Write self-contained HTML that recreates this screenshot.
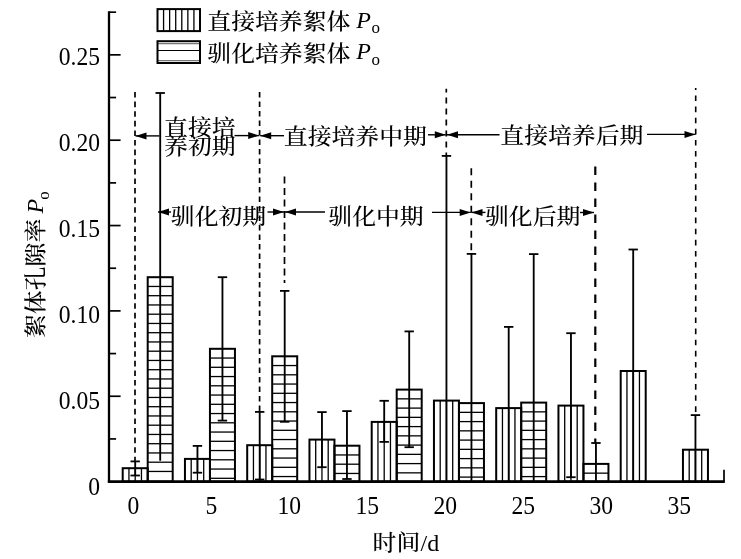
<!DOCTYPE html>
<html lang="zh"><head><meta charset="utf-8"><title>絮体孔隙率</title>
<style>
html,body{margin:0;padding:0;background:#fff;overflow:hidden;}
svg{display:block;}
.t{font-family:"Liberation Serif","Noto Serif CJK SC",serif;fill:#000;}
.c{font-family:"Liberation Serif","Noto Serif CJK SC",serif;fill:#000;font-weight:500;}
</style></head><body>
<svg width="741" height="559" viewBox="0 0 741 559">
<rect x="0" y="0" width="741" height="559" fill="#fff"/>
<line x1="128.95" y1="468.20" x2="128.95" y2="481.60" stroke="#000" stroke-width="1.3"/>
<line x1="135.20" y1="468.20" x2="135.20" y2="481.60" stroke="#000" stroke-width="1.3"/>
<line x1="141.45" y1="468.20" x2="141.45" y2="481.60" stroke="#000" stroke-width="1.3"/>
<rect x="122.70" y="468.20" width="25.00" height="13.40" fill="none" stroke="#000" stroke-width="2"/>
<line x1="191.20" y1="458.90" x2="191.20" y2="481.60" stroke="#000" stroke-width="1.3"/>
<line x1="197.45" y1="458.90" x2="197.45" y2="481.60" stroke="#000" stroke-width="1.3"/>
<line x1="203.70" y1="458.90" x2="203.70" y2="481.60" stroke="#000" stroke-width="1.3"/>
<rect x="184.95" y="458.90" width="25.00" height="22.70" fill="none" stroke="#000" stroke-width="2"/>
<line x1="253.45" y1="445.20" x2="253.45" y2="481.60" stroke="#000" stroke-width="1.3"/>
<line x1="259.70" y1="445.20" x2="259.70" y2="481.60" stroke="#000" stroke-width="1.3"/>
<line x1="265.95" y1="445.20" x2="265.95" y2="481.60" stroke="#000" stroke-width="1.3"/>
<rect x="247.20" y="445.20" width="25.00" height="36.40" fill="none" stroke="#000" stroke-width="2"/>
<line x1="315.70" y1="439.60" x2="315.70" y2="481.60" stroke="#000" stroke-width="1.3"/>
<line x1="321.95" y1="439.60" x2="321.95" y2="481.60" stroke="#000" stroke-width="1.3"/>
<line x1="328.20" y1="439.60" x2="328.20" y2="481.60" stroke="#000" stroke-width="1.3"/>
<rect x="309.45" y="439.60" width="25.00" height="42.00" fill="none" stroke="#000" stroke-width="2"/>
<line x1="377.95" y1="421.90" x2="377.95" y2="481.60" stroke="#000" stroke-width="1.3"/>
<line x1="384.20" y1="421.90" x2="384.20" y2="481.60" stroke="#000" stroke-width="1.3"/>
<line x1="390.45" y1="421.90" x2="390.45" y2="481.60" stroke="#000" stroke-width="1.3"/>
<rect x="371.70" y="421.90" width="25.00" height="59.70" fill="none" stroke="#000" stroke-width="2"/>
<line x1="440.20" y1="400.60" x2="440.20" y2="481.60" stroke="#000" stroke-width="1.3"/>
<line x1="446.45" y1="400.60" x2="446.45" y2="481.60" stroke="#000" stroke-width="1.3"/>
<line x1="452.70" y1="400.60" x2="452.70" y2="481.60" stroke="#000" stroke-width="1.3"/>
<rect x="433.95" y="400.60" width="25.00" height="81.00" fill="none" stroke="#000" stroke-width="2"/>
<line x1="502.45" y1="408.10" x2="502.45" y2="481.60" stroke="#000" stroke-width="1.3"/>
<line x1="508.70" y1="408.10" x2="508.70" y2="481.60" stroke="#000" stroke-width="1.3"/>
<line x1="514.95" y1="408.10" x2="514.95" y2="481.60" stroke="#000" stroke-width="1.3"/>
<rect x="496.20" y="408.10" width="25.00" height="73.50" fill="none" stroke="#000" stroke-width="2"/>
<line x1="564.70" y1="405.60" x2="564.70" y2="481.60" stroke="#000" stroke-width="1.3"/>
<line x1="570.95" y1="405.60" x2="570.95" y2="481.60" stroke="#000" stroke-width="1.3"/>
<line x1="577.20" y1="405.60" x2="577.20" y2="481.60" stroke="#000" stroke-width="1.3"/>
<rect x="558.45" y="405.60" width="25.00" height="76.00" fill="none" stroke="#000" stroke-width="2"/>
<line x1="626.95" y1="371.00" x2="626.95" y2="481.60" stroke="#000" stroke-width="1.3"/>
<line x1="633.20" y1="371.00" x2="633.20" y2="481.60" stroke="#000" stroke-width="1.3"/>
<line x1="639.45" y1="371.00" x2="639.45" y2="481.60" stroke="#000" stroke-width="1.3"/>
<rect x="620.70" y="371.00" width="25.00" height="110.60" fill="none" stroke="#000" stroke-width="2"/>
<line x1="689.20" y1="449.70" x2="689.20" y2="481.60" stroke="#000" stroke-width="1.3"/>
<line x1="695.45" y1="449.70" x2="695.45" y2="481.60" stroke="#000" stroke-width="1.3"/>
<line x1="701.70" y1="449.70" x2="701.70" y2="481.60" stroke="#000" stroke-width="1.3"/>
<rect x="682.95" y="449.70" width="25.00" height="31.90" fill="none" stroke="#000" stroke-width="2"/>
<line x1="147.70" y1="286.45" x2="172.70" y2="286.45" stroke="#000" stroke-width="1.3"/>
<line x1="147.70" y1="295.70" x2="172.70" y2="295.70" stroke="#000" stroke-width="1.3"/>
<line x1="147.70" y1="304.95" x2="172.70" y2="304.95" stroke="#000" stroke-width="1.3"/>
<line x1="147.70" y1="314.20" x2="172.70" y2="314.20" stroke="#000" stroke-width="1.3"/>
<line x1="147.70" y1="323.45" x2="172.70" y2="323.45" stroke="#000" stroke-width="1.3"/>
<line x1="147.70" y1="332.70" x2="172.70" y2="332.70" stroke="#000" stroke-width="1.3"/>
<line x1="147.70" y1="341.95" x2="172.70" y2="341.95" stroke="#000" stroke-width="1.3"/>
<line x1="147.70" y1="351.20" x2="172.70" y2="351.20" stroke="#000" stroke-width="1.3"/>
<line x1="147.70" y1="360.45" x2="172.70" y2="360.45" stroke="#000" stroke-width="1.3"/>
<line x1="147.70" y1="369.70" x2="172.70" y2="369.70" stroke="#000" stroke-width="1.3"/>
<line x1="147.70" y1="378.95" x2="172.70" y2="378.95" stroke="#000" stroke-width="1.3"/>
<line x1="147.70" y1="388.20" x2="172.70" y2="388.20" stroke="#000" stroke-width="1.3"/>
<line x1="147.70" y1="397.45" x2="172.70" y2="397.45" stroke="#000" stroke-width="1.3"/>
<line x1="147.70" y1="406.70" x2="172.70" y2="406.70" stroke="#000" stroke-width="1.3"/>
<line x1="147.70" y1="415.95" x2="172.70" y2="415.95" stroke="#000" stroke-width="1.3"/>
<line x1="147.70" y1="425.20" x2="172.70" y2="425.20" stroke="#000" stroke-width="1.3"/>
<line x1="147.70" y1="434.45" x2="172.70" y2="434.45" stroke="#000" stroke-width="1.3"/>
<line x1="147.70" y1="443.70" x2="172.70" y2="443.70" stroke="#000" stroke-width="1.3"/>
<line x1="147.70" y1="452.95" x2="172.70" y2="452.95" stroke="#000" stroke-width="1.3"/>
<line x1="147.70" y1="462.20" x2="172.70" y2="462.20" stroke="#000" stroke-width="1.3"/>
<line x1="147.70" y1="471.45" x2="172.70" y2="471.45" stroke="#000" stroke-width="1.3"/>
<rect x="147.70" y="277.20" width="25.00" height="204.40" fill="none" stroke="#000" stroke-width="2"/>
<line x1="209.95" y1="358.05" x2="234.95" y2="358.05" stroke="#000" stroke-width="1.3"/>
<line x1="209.95" y1="367.30" x2="234.95" y2="367.30" stroke="#000" stroke-width="1.3"/>
<line x1="209.95" y1="376.55" x2="234.95" y2="376.55" stroke="#000" stroke-width="1.3"/>
<line x1="209.95" y1="385.80" x2="234.95" y2="385.80" stroke="#000" stroke-width="1.3"/>
<line x1="209.95" y1="395.05" x2="234.95" y2="395.05" stroke="#000" stroke-width="1.3"/>
<line x1="209.95" y1="404.30" x2="234.95" y2="404.30" stroke="#000" stroke-width="1.3"/>
<line x1="209.95" y1="413.55" x2="234.95" y2="413.55" stroke="#000" stroke-width="1.3"/>
<line x1="209.95" y1="422.80" x2="234.95" y2="422.80" stroke="#000" stroke-width="1.3"/>
<line x1="209.95" y1="432.05" x2="234.95" y2="432.05" stroke="#000" stroke-width="1.3"/>
<line x1="209.95" y1="441.30" x2="234.95" y2="441.30" stroke="#000" stroke-width="1.3"/>
<line x1="209.95" y1="450.55" x2="234.95" y2="450.55" stroke="#000" stroke-width="1.3"/>
<line x1="209.95" y1="459.80" x2="234.95" y2="459.80" stroke="#000" stroke-width="1.3"/>
<line x1="209.95" y1="469.05" x2="234.95" y2="469.05" stroke="#000" stroke-width="1.3"/>
<line x1="209.95" y1="478.30" x2="234.95" y2="478.30" stroke="#000" stroke-width="1.3"/>
<rect x="209.95" y="348.80" width="25.00" height="132.80" fill="none" stroke="#000" stroke-width="2"/>
<line x1="272.20" y1="365.55" x2="297.20" y2="365.55" stroke="#000" stroke-width="1.3"/>
<line x1="272.20" y1="374.80" x2="297.20" y2="374.80" stroke="#000" stroke-width="1.3"/>
<line x1="272.20" y1="384.05" x2="297.20" y2="384.05" stroke="#000" stroke-width="1.3"/>
<line x1="272.20" y1="393.30" x2="297.20" y2="393.30" stroke="#000" stroke-width="1.3"/>
<line x1="272.20" y1="402.55" x2="297.20" y2="402.55" stroke="#000" stroke-width="1.3"/>
<line x1="272.20" y1="411.80" x2="297.20" y2="411.80" stroke="#000" stroke-width="1.3"/>
<line x1="272.20" y1="421.05" x2="297.20" y2="421.05" stroke="#000" stroke-width="1.3"/>
<line x1="272.20" y1="430.30" x2="297.20" y2="430.30" stroke="#000" stroke-width="1.3"/>
<line x1="272.20" y1="439.55" x2="297.20" y2="439.55" stroke="#000" stroke-width="1.3"/>
<line x1="272.20" y1="448.80" x2="297.20" y2="448.80" stroke="#000" stroke-width="1.3"/>
<line x1="272.20" y1="458.05" x2="297.20" y2="458.05" stroke="#000" stroke-width="1.3"/>
<line x1="272.20" y1="467.30" x2="297.20" y2="467.30" stroke="#000" stroke-width="1.3"/>
<line x1="272.20" y1="476.55" x2="297.20" y2="476.55" stroke="#000" stroke-width="1.3"/>
<rect x="272.20" y="356.30" width="25.00" height="125.30" fill="none" stroke="#000" stroke-width="2"/>
<line x1="334.45" y1="454.95" x2="359.45" y2="454.95" stroke="#000" stroke-width="1.3"/>
<line x1="334.45" y1="464.20" x2="359.45" y2="464.20" stroke="#000" stroke-width="1.3"/>
<line x1="334.45" y1="473.45" x2="359.45" y2="473.45" stroke="#000" stroke-width="1.3"/>
<rect x="334.45" y="445.70" width="25.00" height="35.90" fill="none" stroke="#000" stroke-width="2"/>
<line x1="396.70" y1="398.85" x2="421.70" y2="398.85" stroke="#000" stroke-width="1.3"/>
<line x1="396.70" y1="408.10" x2="421.70" y2="408.10" stroke="#000" stroke-width="1.3"/>
<line x1="396.70" y1="417.35" x2="421.70" y2="417.35" stroke="#000" stroke-width="1.3"/>
<line x1="396.70" y1="426.60" x2="421.70" y2="426.60" stroke="#000" stroke-width="1.3"/>
<line x1="396.70" y1="435.85" x2="421.70" y2="435.85" stroke="#000" stroke-width="1.3"/>
<line x1="396.70" y1="445.10" x2="421.70" y2="445.10" stroke="#000" stroke-width="1.3"/>
<line x1="396.70" y1="454.35" x2="421.70" y2="454.35" stroke="#000" stroke-width="1.3"/>
<line x1="396.70" y1="463.60" x2="421.70" y2="463.60" stroke="#000" stroke-width="1.3"/>
<line x1="396.70" y1="472.85" x2="421.70" y2="472.85" stroke="#000" stroke-width="1.3"/>
<rect x="396.70" y="389.60" width="25.00" height="92.00" fill="none" stroke="#000" stroke-width="2"/>
<line x1="458.95" y1="412.35" x2="483.95" y2="412.35" stroke="#000" stroke-width="1.3"/>
<line x1="458.95" y1="421.60" x2="483.95" y2="421.60" stroke="#000" stroke-width="1.3"/>
<line x1="458.95" y1="430.85" x2="483.95" y2="430.85" stroke="#000" stroke-width="1.3"/>
<line x1="458.95" y1="440.10" x2="483.95" y2="440.10" stroke="#000" stroke-width="1.3"/>
<line x1="458.95" y1="449.35" x2="483.95" y2="449.35" stroke="#000" stroke-width="1.3"/>
<line x1="458.95" y1="458.60" x2="483.95" y2="458.60" stroke="#000" stroke-width="1.3"/>
<line x1="458.95" y1="467.85" x2="483.95" y2="467.85" stroke="#000" stroke-width="1.3"/>
<line x1="458.95" y1="477.10" x2="483.95" y2="477.10" stroke="#000" stroke-width="1.3"/>
<rect x="458.95" y="403.10" width="25.00" height="78.50" fill="none" stroke="#000" stroke-width="2"/>
<line x1="521.20" y1="411.85" x2="546.20" y2="411.85" stroke="#000" stroke-width="1.3"/>
<line x1="521.20" y1="421.10" x2="546.20" y2="421.10" stroke="#000" stroke-width="1.3"/>
<line x1="521.20" y1="430.35" x2="546.20" y2="430.35" stroke="#000" stroke-width="1.3"/>
<line x1="521.20" y1="439.60" x2="546.20" y2="439.60" stroke="#000" stroke-width="1.3"/>
<line x1="521.20" y1="448.85" x2="546.20" y2="448.85" stroke="#000" stroke-width="1.3"/>
<line x1="521.20" y1="458.10" x2="546.20" y2="458.10" stroke="#000" stroke-width="1.3"/>
<line x1="521.20" y1="467.35" x2="546.20" y2="467.35" stroke="#000" stroke-width="1.3"/>
<line x1="521.20" y1="476.60" x2="546.20" y2="476.60" stroke="#000" stroke-width="1.3"/>
<rect x="521.20" y="402.60" width="25.00" height="79.00" fill="none" stroke="#000" stroke-width="2"/>
<line x1="583.45" y1="473.15" x2="608.45" y2="473.15" stroke="#000" stroke-width="1.3"/>
<rect x="583.45" y="463.90" width="25.00" height="17.70" fill="none" stroke="#000" stroke-width="2"/>
<line x1="135.20" y1="461.40" x2="135.20" y2="475.50" stroke="#000" stroke-width="1.85"/>
<line x1="130.50" y1="461.40" x2="139.90" y2="461.40" stroke="#000" stroke-width="1.8"/>
<line x1="130.50" y1="475.50" x2="139.90" y2="475.50" stroke="#000" stroke-width="1.8"/>
<line x1="197.45" y1="445.90" x2="197.45" y2="472.70" stroke="#000" stroke-width="1.85"/>
<line x1="192.75" y1="445.90" x2="202.15" y2="445.90" stroke="#000" stroke-width="1.8"/>
<line x1="192.75" y1="472.70" x2="202.15" y2="472.70" stroke="#000" stroke-width="1.8"/>
<line x1="259.70" y1="411.90" x2="259.70" y2="479.50" stroke="#000" stroke-width="1.85"/>
<line x1="255.00" y1="411.90" x2="264.40" y2="411.90" stroke="#000" stroke-width="1.8"/>
<line x1="255.00" y1="479.50" x2="264.40" y2="479.50" stroke="#000" stroke-width="1.8"/>
<line x1="321.95" y1="412.10" x2="321.95" y2="467.20" stroke="#000" stroke-width="1.85"/>
<line x1="317.25" y1="412.10" x2="326.65" y2="412.10" stroke="#000" stroke-width="1.8"/>
<line x1="317.25" y1="467.20" x2="326.65" y2="467.20" stroke="#000" stroke-width="1.8"/>
<line x1="384.20" y1="400.80" x2="384.20" y2="441.90" stroke="#000" stroke-width="1.85"/>
<line x1="379.50" y1="400.80" x2="388.90" y2="400.80" stroke="#000" stroke-width="1.8"/>
<line x1="379.50" y1="441.90" x2="388.90" y2="441.90" stroke="#000" stroke-width="1.8"/>
<line x1="446.45" y1="155.90" x2="446.45" y2="481.60" stroke="#000" stroke-width="1.85"/>
<line x1="441.75" y1="155.90" x2="451.15" y2="155.90" stroke="#000" stroke-width="1.8"/>
<line x1="508.70" y1="326.90" x2="508.70" y2="481.60" stroke="#000" stroke-width="1.85"/>
<line x1="504.00" y1="326.90" x2="513.40" y2="326.90" stroke="#000" stroke-width="1.8"/>
<line x1="570.95" y1="333.20" x2="570.95" y2="477.20" stroke="#000" stroke-width="1.85"/>
<line x1="566.25" y1="333.20" x2="575.65" y2="333.20" stroke="#000" stroke-width="1.8"/>
<line x1="566.25" y1="477.20" x2="575.65" y2="477.20" stroke="#000" stroke-width="1.8"/>
<line x1="633.20" y1="249.50" x2="633.20" y2="481.60" stroke="#000" stroke-width="1.85"/>
<line x1="628.50" y1="249.50" x2="637.90" y2="249.50" stroke="#000" stroke-width="1.8"/>
<line x1="695.45" y1="415.10" x2="695.45" y2="481.60" stroke="#000" stroke-width="1.85"/>
<line x1="690.75" y1="415.10" x2="700.15" y2="415.10" stroke="#000" stroke-width="1.8"/>
<line x1="160.20" y1="93.00" x2="160.20" y2="460.70" stroke="#000" stroke-width="1.85"/>
<line x1="155.50" y1="93.00" x2="164.90" y2="93.00" stroke="#000" stroke-width="1.8"/>
<line x1="222.45" y1="277.20" x2="222.45" y2="420.60" stroke="#000" stroke-width="1.85"/>
<line x1="217.75" y1="277.20" x2="227.15" y2="277.20" stroke="#000" stroke-width="1.8"/>
<line x1="217.75" y1="420.60" x2="227.15" y2="420.60" stroke="#000" stroke-width="1.8"/>
<line x1="284.70" y1="290.90" x2="284.70" y2="421.80" stroke="#000" stroke-width="1.85"/>
<line x1="280.00" y1="290.90" x2="289.40" y2="290.90" stroke="#000" stroke-width="1.8"/>
<line x1="280.00" y1="421.80" x2="289.40" y2="421.80" stroke="#000" stroke-width="1.8"/>
<line x1="346.95" y1="411.10" x2="346.95" y2="479.00" stroke="#000" stroke-width="1.85"/>
<line x1="342.25" y1="411.10" x2="351.65" y2="411.10" stroke="#000" stroke-width="1.8"/>
<line x1="342.25" y1="479.00" x2="351.65" y2="479.00" stroke="#000" stroke-width="1.8"/>
<line x1="409.20" y1="331.40" x2="409.20" y2="447.20" stroke="#000" stroke-width="1.85"/>
<line x1="404.50" y1="331.40" x2="413.90" y2="331.40" stroke="#000" stroke-width="1.8"/>
<line x1="404.50" y1="447.20" x2="413.90" y2="447.20" stroke="#000" stroke-width="1.8"/>
<line x1="471.45" y1="253.90" x2="471.45" y2="481.60" stroke="#000" stroke-width="1.85"/>
<line x1="466.75" y1="253.90" x2="476.15" y2="253.90" stroke="#000" stroke-width="1.8"/>
<line x1="533.70" y1="254.10" x2="533.70" y2="481.60" stroke="#000" stroke-width="1.85"/>
<line x1="529.00" y1="254.10" x2="538.40" y2="254.10" stroke="#000" stroke-width="1.8"/>
<line x1="595.95" y1="443.00" x2="595.95" y2="481.60" stroke="#000" stroke-width="1.85"/>
<line x1="591.25" y1="443.00" x2="600.65" y2="443.00" stroke="#000" stroke-width="1.8"/>
<line x1="109.00" y1="11.30" x2="109.00" y2="482.70" stroke="#000" stroke-width="2.3"/>
<line x1="107.85" y1="481.60" x2="724.80" y2="481.60" stroke="#000" stroke-width="2.6"/>
<line x1="724.00" y1="481.60" x2="724.00" y2="469.70" stroke="#000" stroke-width="1.7"/>
<line x1="109.00" y1="438.93" x2="116.10" y2="438.93" stroke="#000" stroke-width="1.7"/>
<line x1="109.00" y1="396.25" x2="120.60" y2="396.25" stroke="#000" stroke-width="1.7"/>
<line x1="109.00" y1="353.58" x2="116.10" y2="353.58" stroke="#000" stroke-width="1.7"/>
<line x1="109.00" y1="310.90" x2="120.60" y2="310.90" stroke="#000" stroke-width="1.7"/>
<line x1="109.00" y1="268.23" x2="116.10" y2="268.23" stroke="#000" stroke-width="1.7"/>
<line x1="109.00" y1="225.55" x2="120.60" y2="225.55" stroke="#000" stroke-width="1.7"/>
<line x1="109.00" y1="182.88" x2="116.10" y2="182.88" stroke="#000" stroke-width="1.7"/>
<line x1="109.00" y1="140.20" x2="120.60" y2="140.20" stroke="#000" stroke-width="1.7"/>
<line x1="109.00" y1="97.53" x2="116.10" y2="97.53" stroke="#000" stroke-width="1.7"/>
<line x1="109.00" y1="54.85" x2="120.60" y2="54.85" stroke="#000" stroke-width="1.7"/>
<line x1="109.00" y1="12.18" x2="116.10" y2="12.18" stroke="#000" stroke-width="1.7"/>
<text transform="translate(100.00,494.50) scale(0.94,1)" font-size="25.1" text-anchor="end" class="t">0</text>
<text transform="translate(100.00,408.64) scale(0.94,1)" font-size="25.1" text-anchor="end" class="t">0.05</text>
<text transform="translate(100.00,322.78) scale(0.94,1)" font-size="25.1" text-anchor="end" class="t">0.10</text>
<text transform="translate(100.00,236.92) scale(0.94,1)" font-size="25.1" text-anchor="end" class="t">0.15</text>
<text transform="translate(100.00,151.06) scale(0.94,1)" font-size="25.1" text-anchor="end" class="t">0.20</text>
<text transform="translate(100.00,65.20) scale(0.94,1)" font-size="25.1" text-anchor="end" class="t">0.25</text>
<text transform="translate(133.30,514.30) scale(0.94,1)" font-size="25.1" text-anchor="middle" class="t">0</text>
<text transform="translate(211.30,514.30) scale(0.94,1)" font-size="25.1" text-anchor="middle" class="t">5</text>
<text transform="translate(289.30,514.30) scale(0.94,1)" font-size="25.1" text-anchor="middle" class="t">10</text>
<text transform="translate(367.30,514.30) scale(0.94,1)" font-size="25.1" text-anchor="middle" class="t">15</text>
<text transform="translate(445.30,514.30) scale(0.94,1)" font-size="25.1" text-anchor="middle" class="t">20</text>
<text transform="translate(523.30,514.30) scale(0.94,1)" font-size="25.1" text-anchor="middle" class="t">25</text>
<text transform="translate(601.30,514.30) scale(0.94,1)" font-size="25.1" text-anchor="middle" class="t">30</text>
<text transform="translate(679.30,514.30) scale(0.94,1)" font-size="25.1" text-anchor="middle" class="t">35</text>
<text transform="translate(372.60,550.40) scale(1.1,1)" font-size="21.7" class="c" style="font-weight:500">时间</text>
<text x="420.50" y="550.60" font-size="24" text-anchor="start" class="t">/d</text>
<g transform="translate(43.3,338) rotate(-90)"><text transform="scale(1.1,1)" font-size="21.7" class="c">絮体孔隙率</text><text x="124.5" y="0" font-size="24" font-style="italic" class="t">P</text><text x="138.3" y="5.5" font-size="17" class="t">o</text></g>
<line x1="163.57" y1="9.10" x2="163.57" y2="31.10" stroke="#000" stroke-width="1.3"/>
<line x1="169.64" y1="9.10" x2="169.64" y2="31.10" stroke="#000" stroke-width="1.3"/>
<line x1="175.71" y1="9.10" x2="175.71" y2="31.10" stroke="#000" stroke-width="1.3"/>
<line x1="181.79" y1="9.10" x2="181.79" y2="31.10" stroke="#000" stroke-width="1.3"/>
<line x1="187.86" y1="9.10" x2="187.86" y2="31.10" stroke="#000" stroke-width="1.3"/>
<line x1="193.93" y1="9.10" x2="193.93" y2="31.10" stroke="#000" stroke-width="1.3"/>
<rect x="157.50" y="9.10" width="42.50" height="22.00" fill="none" stroke="#000" stroke-width="2"/>
<line x1="157.50" y1="43.60" x2="200.00" y2="43.60" stroke="#777" stroke-width="1.2"/>
<line x1="157.50" y1="50.50" x2="200.00" y2="50.50" stroke="#000" stroke-width="1.2"/>
<line x1="157.50" y1="60.60" x2="200.00" y2="60.60" stroke="#777" stroke-width="1.2"/>
<rect x="157.50" y="41.20" width="42.50" height="21.80" fill="none" stroke="#000" stroke-width="2"/>
<text transform="translate(207.30,29.00) scale(1.1,1)" font-size="21.7" class="c">直接培养絮体</text>
<text x="356.30" y="27.50" font-size="24" text-anchor="start" class="t" font-style="italic">P</text>
<text x="371.50" y="33.10" font-size="17" text-anchor="start" class="t">o</text>
<text transform="translate(207.30,60.80) scale(1.1,1)" font-size="21.7" class="c">驯化培养絮体</text>
<text x="356.30" y="59.30" font-size="24" text-anchor="start" class="t" font-style="italic">P</text>
<text x="371.50" y="64.90" font-size="17" text-anchor="start" class="t">o</text>
<line x1="135.00" y1="92.00" x2="135.00" y2="461.00" stroke="#000" stroke-width="1.7" stroke-dasharray="5.6 4.0" stroke-dashoffset="0"/>
<line x1="259.60" y1="92.00" x2="259.60" y2="411.50" stroke="#000" stroke-width="1.7" stroke-dasharray="5.6 3.9" stroke-dashoffset="0"/>
<line x1="284.50" y1="176.40" x2="284.50" y2="283.00" stroke="#000" stroke-width="1.7" stroke-dasharray="7 4.5" stroke-dashoffset="0"/>
<line x1="446.30" y1="88.80" x2="446.30" y2="156.00" stroke="#000" stroke-width="1.7" stroke-dasharray="6 5" stroke-dashoffset="2.3"/>
<line x1="471.30" y1="168.20" x2="471.30" y2="254.00" stroke="#000" stroke-width="1.7" stroke-dasharray="7 5.5" stroke-dashoffset="0"/>
<line x1="595.30" y1="166.60" x2="595.30" y2="443.00" stroke="#000" stroke-width="2.2" stroke-dasharray="8.4 7.6" stroke-dashoffset="0"/>
<line x1="695.70" y1="88.00" x2="695.70" y2="415.00" stroke="#000" stroke-width="1.6" stroke-dasharray="5.6 5.5" stroke-dashoffset="3.6"/>
<line x1="135.50" y1="135.90" x2="159.50" y2="135.90" stroke="#000" stroke-width="1.4"/>
<polygon points="135.5,135.9 146.5,132.4 146.5,139.4" fill="#000"/>
<line x1="234.50" y1="135.60" x2="259.20" y2="135.60" stroke="#000" stroke-width="1.4"/>
<polygon points="259.2,135.6 248.2,132.1 248.2,139.1" fill="#000"/>
<line x1="260.20" y1="135.70" x2="284.00" y2="135.70" stroke="#000" stroke-width="1.4"/>
<polygon points="260.2,135.7 271.2,132.2 271.2,139.2" fill="#000"/>
<line x1="428.00" y1="134.80" x2="445.80" y2="134.80" stroke="#000" stroke-width="1.4"/>
<polygon points="445.8,134.8 434.8,131.3 434.8,138.3" fill="#000"/>
<line x1="447.00" y1="134.70" x2="499.50" y2="134.70" stroke="#000" stroke-width="1.4"/>
<polygon points="447.0,134.7 458.0,131.2 458.0,138.2" fill="#000"/>
<line x1="647.00" y1="134.40" x2="695.50" y2="134.40" stroke="#000" stroke-width="1.4"/>
<polygon points="695.5,134.4 684.5,130.9 684.5,137.9" fill="#000"/>
<line x1="158.00" y1="212.00" x2="171.00" y2="212.00" stroke="#000" stroke-width="1.4"/>
<polygon points="158.0,212.0 169.0,208.5 169.0,215.5" fill="#000"/>
<line x1="267.50" y1="212.00" x2="284.00" y2="212.00" stroke="#000" stroke-width="1.4"/>
<polygon points="284.0,212.0 273.0,208.5 273.0,215.5" fill="#000"/>
<line x1="285.00" y1="212.00" x2="325.00" y2="212.00" stroke="#000" stroke-width="1.4"/>
<polygon points="285.0,212.0 296.0,208.5 296.0,215.5" fill="#000"/>
<line x1="432.00" y1="212.40" x2="470.70" y2="212.40" stroke="#000" stroke-width="1.4"/>
<polygon points="470.7,212.4 459.7,208.9 459.7,215.9" fill="#000"/>
<line x1="471.50" y1="212.40" x2="485.50" y2="212.40" stroke="#000" stroke-width="1.4"/>
<polygon points="471.5,212.4 482.5,208.9 482.5,215.9" fill="#000"/>
<line x1="580.00" y1="212.50" x2="594.00" y2="212.50" stroke="#000" stroke-width="1.4"/>
<polygon points="594.0,212.5 583.0,209.0 583.0,216.0" fill="#000"/>
<text transform="translate(164.10,134.80) scale(1.1,1)" font-size="21.7" class="c">直接培</text>
<text transform="translate(164.10,154.20) scale(1.1,1)" font-size="21.7" class="c">养初期</text>
<text transform="translate(283.80,143.60) scale(1.1,1)" font-size="21.7" class="c">直接培养中期</text>
<text transform="translate(500.30,143.10) scale(1.1,1)" font-size="21.7" class="c">直接培养后期</text>
<text transform="translate(170.80,223.80) scale(1.1,1)" font-size="21.7" class="c">驯化初期</text>
<text transform="translate(328.30,223.80) scale(1.1,1)" font-size="21.7" class="c">驯化中期</text>
<text transform="translate(485.00,223.80) scale(1.1,1)" font-size="21.7" class="c">驯化后期</text>
</svg>
</body></html>
